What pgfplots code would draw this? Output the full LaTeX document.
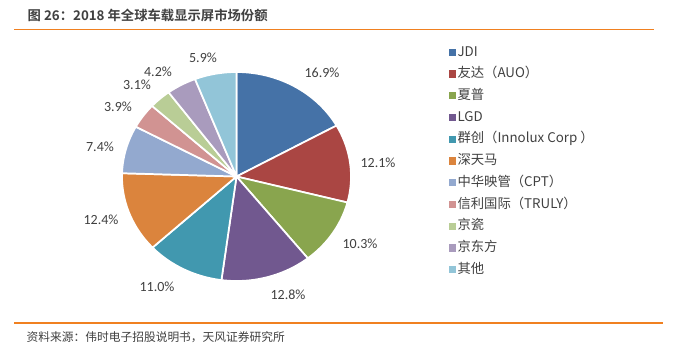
\documentclass[border=0pt]{standalone}
\usepackage{pgfplots}
\usepackage{pgfplotstable}
\pgfplotsset{compat=1.18}
\usepackage{fontspec}
\setmainfont{Noto Sans CJK SC}
\newfontfamily\cjk{Noto Sans CJK SC}
\newfontfamily\cjkb{Noto Sans CJK SC Bold}
\newfontfamily\lab{Carlito}
\definecolor{c1}{HTML}{4572A7}
\definecolor{c2}{HTML}{AA4643}
\definecolor{c3}{HTML}{89A54E}
\definecolor{c4}{HTML}{71588F}
\definecolor{c5}{HTML}{4198AF}
\definecolor{c6}{HTML}{DB843D}
\definecolor{c7}{HTML}{93A9CF}
\definecolor{c8}{HTML}{D19392}
\definecolor{c9}{HTML}{B9CD96}
\definecolor{c10}{HTML}{A99BBD}
\definecolor{c11}{HTML}{92C5D8}
\definecolor{txt}{HTML}{404040}
\definecolor{orng}{HTML}{F08020}

% value = share in percent; lx, ly = label position in pixels (from top-left)
\pgfplotstableread[col sep=comma]{
name,value,color,lx,ly
JDI,16.9,c1,322,73
友达（AUO）,12.1,c2,378,163
夏普,10.3,c3,360,244
LGD,12.8,c4,288,295
群创（Innolux Corp ）,11.0,c5,157,287
深天马,12.4,c6,101,220
中华映管（CPT）,7.4,c7,100,147
信利国际（TRULY）,3.9,c8,118,107
京瓷,3.1,c9,137,85
京东方,4.2,c10,158,72
其他,5.9,c11,203,58
}\piedata

\begin{document}
\begin{tikzpicture}
\useasboundingbox (0,0) rectangle (505.5pt,266.25pt);
\begin{axis}[
  scale only axis, width=505.5pt, height=266.25pt,
  xmin=0, xmax=674, ymin=0, ymax=355,
  hide axis, clip=false,
  legend style={at={(axis cs:445,313)}, anchor=north west, draw=none, fill=none,
    font=\cjk\fontsize{10}{11}\selectfont, text=txt, row sep=5.2pt,
    nodes={inner sep=0.8pt, text height=7.5pt, text depth=2pt}},
  legend cell align=left,
  legend image code/.code={\fill[#1,draw=none] (0pt,-2.7pt) rectangle (5.4pt,2.7pt);},
]
\def\cx{236.5}\def\cy{178.5}\def\rx{114.5}\def\ry{104.5}
\def\cum{0}
\pgfplotsforeachungrouped \i in {0,...,10}{
  \pgfplotstablegetelem{\i}{value}\of\piedata \let\v\pgfplotsretval
  \pgfplotstablegetelem{\i}{color}\of\piedata \let\c\pgfplotsretval
  \pgfplotstablegetelem{\i}{name}\of\piedata \let\n\pgfplotsretval
  \pgfplotstablegetelem{\i}{lx}\of\piedata \let\lx\pgfplotsretval
  \pgfplotstablegetelem{\i}{ly}\of\piedata \let\ly\pgfplotsretval
  \pgfmathsetmacro\a{90-3.6*\cum}
  \pgfmathsetmacro\b{90-3.6*(\cum+\v)}
  \pgfmathsetmacro\lyy{355-\ly}
  \edef\temp{%
    \noexpand\addplot[fill=\c, draw=white, line width=1.3pt, line join=round,
      domain=\b:\a, samples=60, variable=\noexpand\t]
      ({\cx+\rx*cos(\noexpand\t)},{\cy+\ry*sin(\noexpand\t)}) -- (axis cs:\cx,\cy) -- cycle;
    \noexpand\addlegendentry{\n}
    \noexpand\node[font=\noexpand\lab\noexpand\fontsize{10.5}{12}\noexpand\selectfont, text=txt]
      at (axis cs:\lx,\lyy) {\v\noexpand\%};
  }\temp
  \pgfmathsetmacro\cum{\cum+\v}
}
% title, rules and source
\node[anchor=west, font=\cjkb\fontsize{10}{12}\selectfont, text=txt] at (axis cs:23,340) {图 26：2018 年全球车载显示屏市场份额};
\draw[orng, line width=0.9pt] (axis cs:14,325.7) -- (axis cs:654,325.7);
\draw[orng, line width=1.6pt] (axis cs:14,32.3) -- (axis cs:663,32.3);
\node[anchor=west, font=\cjk\fontsize{8.8}{11}\selectfont, text=txt] at (axis cs:22,18) {资料来源：伟时电子招股说明书，天风证券研究所};
\end{axis}
\end{tikzpicture}
\end{document}
